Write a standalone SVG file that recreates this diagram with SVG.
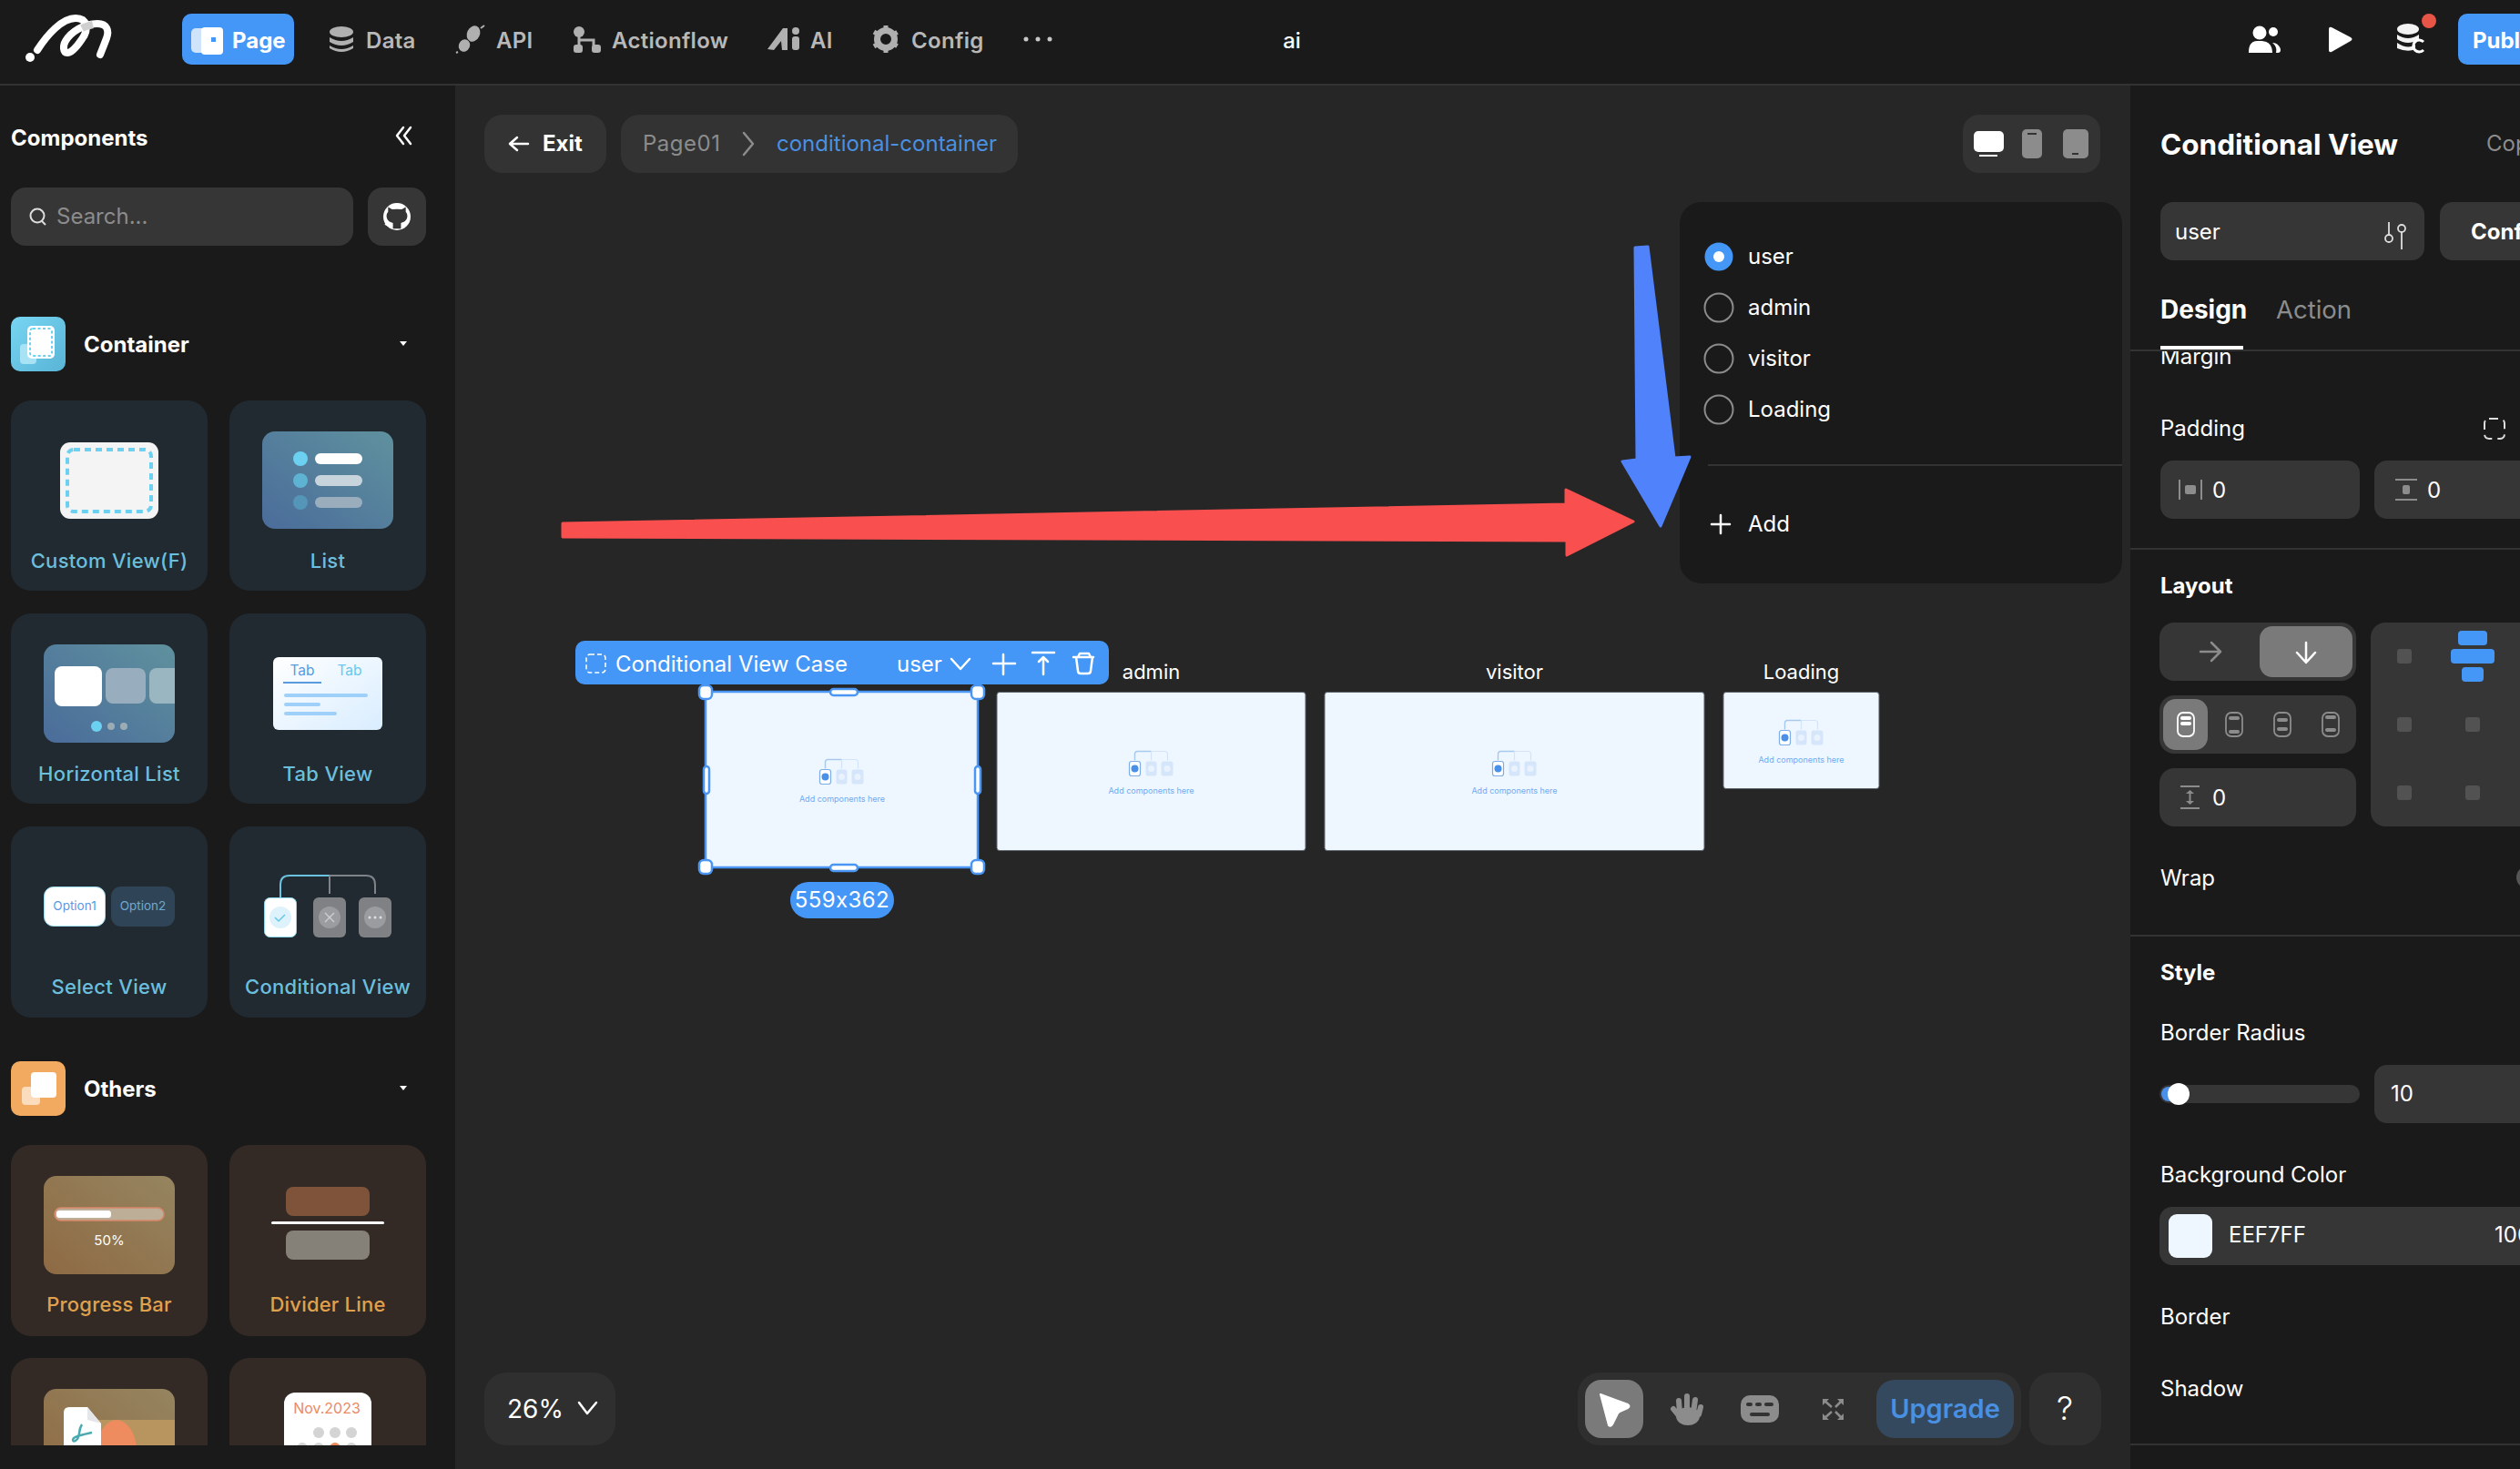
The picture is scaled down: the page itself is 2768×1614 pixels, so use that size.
<svg xmlns="http://www.w3.org/2000/svg" width="2768" height="1614" viewBox="0 0 2768 1614">
<style>
text{font-family:Inter,"Liberation Sans",sans-serif;font-size:24px;fill:#fff;white-space:pre}
.b{font-weight:700}.m{font-weight:500}
.g{fill:#8c8c8c}.nav{fill:#b8b8b8;font-weight:600;letter-spacing:.3px}
.c{text-anchor:middle}
.lb{fill:#6bbfdc;font-size:22px;font-weight:500;text-anchor:middle;letter-spacing:.3px}
.lo{fill:#e0a14f;font-size:22px;font-weight:500;text-anchor:middle;letter-spacing:.2px}
.tt{font-size:22px;text-anchor:middle}
.f{fill:#363636}.ln{stroke:#333;stroke-width:2;fill:none}
.cb{fill:#222a31}.co{fill:#332a25}
.wl{fill:none;stroke:#fff;stroke-width:2.5;stroke-linecap:round;stroke-linejoin:round}
.gl{fill:none;stroke:#8c8c8c;stroke-width:2.5;stroke-linecap:round;stroke-linejoin:round}
.case{fill:#eef7ff;stroke:#5d646c;stroke-width:1}
.h{fill:#fff;stroke:#4a96f2;stroke-width:2.5}
.add{font-size:9px;fill:#6eaaf2;text-anchor:middle}
</style>
<defs>
<linearGradient id="gb" x1="0" y1="1" x2="1" y2="0"><stop offset="0" stop-color="#4a6c9a"/><stop offset="1" stop-color="#5f919e"/></linearGradient>
<linearGradient id="gt" x1="0" y1="0" x2="1" y2="1"><stop offset="0" stop-color="#ffffff"/><stop offset="1" stop-color="#d9edff"/></linearGradient>
<linearGradient id="go" x1="0" y1="1" x2="1" y2="0"><stop offset="0" stop-color="#8e6a43"/><stop offset="1" stop-color="#958560"/></linearGradient>
<linearGradient id="gc" x1="0" y1="0" x2="1" y2="1"><stop offset="0" stop-color="#77d6f2"/><stop offset="1" stop-color="#59b4d6"/></linearGradient>
<clipPath id="sideclip"><rect x="0" y="94" width="500" height="1494"/></clipPath>
<clipPath id="hclip"><rect x="48" y="708" width="144" height="108" rx="14"/></clipPath>
<clipPath id="marginclip"><rect x="2340" y="386" width="428" height="40"/></clipPath>
<clipPath id="rightclip"><rect x="2340" y="0" width="428" height="1614"/></clipPath>
<g id="mini">
<path d="M-18 -1V-8Q-18 -11 -15 -11H0" fill="none" stroke="#a9c9ec" stroke-width="1.400"/>
<path d="M0 -11H15Q18 -11 18 -8V-1M0 -11V-1" fill="none" stroke="#d3e4f8" stroke-width="1.200"/>
<rect x="-24" y="0" width="12" height="16" rx="2.500" fill="#fff" stroke="#7eaee8" stroke-width="1.200"/>
<circle cx="-18" cy="8" r="4" fill="#4a8fe8"/>
<rect x="-6" y="0" width="12" height="16" rx="2.500" fill="#d5e6fb"/><circle cx="0" cy="8" r="3.500" fill="#e9f2fd"/>
<rect x="11" y="0" width="13" height="16" rx="2.500" fill="#d5e6fb"/><circle cx="17.500" cy="8" r="3.500" fill="#e9f2fd"/>
</g>
</defs>

<rect width="2768" height="1614" fill="#262626"/>

<g id="topbar">
<rect width="2768" height="92" fill="#1a1a1a"/>
<rect y="92" width="2768" height="2" fill="#333"/>
<g id="logo" fill="none" stroke="#fff" stroke-linecap="round">
<circle cx="33" cy="63" r="5" fill="#fff" stroke="none"/>
<path d="M41 55C52 38 68 20 83 20C96 20 98 32 90 43C84 52 78 58 74 58C69 58 69 50 72 45C78 35 92 26 107 26C118 26 120 34 117 42C114 50 112 55 110 60" stroke-width="8"/>
<path d="M90 31C94 29 98 28 102 27" stroke-width="8" stroke="#cfcfcf" stroke-linecap="butt"/>
</g>
<g id="nav-page"><rect x="200" y="15" width="123" height="56" rx="10" fill="#4497f7"/>
<rect x="210" y="31" width="22" height="27" rx="5" fill="#cfe3fb"/><rect x="221" y="30" width="24" height="30" rx="4" fill="#fff"/><rect x="232" y="41" width="5" height="5" fill="#4497f7"/>
<text x="255" y="53" class="b">Page</text></g>
<g id="nav-data" fill="#b0b0b0"><ellipse cx="375" cy="35" rx="13" ry="6"/><path d="M362 41q13 8 26 0v5q-13 8-26 0zM362 50q13 8 26 0v3q-13 8-26 0z"/><text x="402" y="53" class="nav">Data</text></g>
<g id="nav-api" fill="#b0b0b0"><ellipse cx="520" cy="37" rx="7" ry="9" transform="rotate(25 520 37)"/><ellipse cx="510" cy="50" rx="6" ry="7" transform="rotate(25 510 50)"/><path d="M503 57l-2 1M528 31l4-3" stroke="#b0b0b0" stroke-width="2"/><text x="545" y="53" class="nav">API</text></g>
<g id="nav-actionflow" fill="#b0b0b0"><circle cx="636" cy="35" r="6"/><rect x="630" y="49" width="10" height="9" rx="3"/><rect x="650" y="49" width="10" height="9" rx="3"/><path d="M636 40v10M636 44h16v6" fill="none" stroke="#b0b0b0" stroke-width="3"/><text x="672" y="53" class="nav">Actionflow</text></g>
<g id="nav-ai" fill="#b0b0b0"><path d="M843 54L860 31h5v24h-6l-1-10-8 10z"/><circle cx="874" cy="34" r="4"/><rect x="870" y="40" width="8" height="15" rx="3"/><text x="890" y="53" class="nav">AI</text></g>
<g id="nav-config"><circle cx="973" cy="43" r="9.500" fill="none" stroke="#b0b0b0" stroke-width="7"/><path d="M973 28v30M960 35l26 16M960 51l26-16" stroke="#b0b0b0" stroke-width="5" stroke-dasharray="5 20"/><text x="1001" y="53" class="nav">Config</text></g>
<g id="nav-more" fill="#c8c8c8"><circle cx="1127" cy="43" r="2.500"/><circle cx="1140" cy="43" r="2.500"/><circle cx="1153" cy="43" r="2.500"/></g>
<text x="1419" y="53" class="m c" id="title">ai</text>
<g id="users" fill="#fff"><circle cx="2482" cy="36" r="7.500"/><circle cx="2497" cy="35" r="5"/><path d="M2470 58c0-14 8-13 12-13s14 0 14 13zM2496 47c6 0 9 5 9 8q0 3-3 3h-2c1-4 0-8-4-11z"/></g>
<path id="play" d="M2561 30l21 11q3 2 0 4l-21 12q-3 1-3-2V32q0-3 3-2z" fill="#fff"/>
<g id="credits"><ellipse cx="2645" cy="32" rx="12" ry="6" fill="#f4f4f4"/><path d="M2633 38q12 8 24 0v5q-12 8-24 0zM2633 47q12 8 20 2v5q-8 4-20-1z" fill="#f4f4f4"/><path d="M2662 46a6.500 6.500 0 1 0 0 9" fill="none" stroke="#fff" stroke-width="3"/><circle cx="2668" cy="23" r="8" fill="#e65546"/></g>
<g id="publish"><rect x="2700" y="15" width="90" height="56" rx="10" fill="#4497f7"/><text x="2716" y="53" class="b">Publ</text></g>
</g>

<g id="sidebar">
<rect y="94" width="500" height="1520" fill="#1a1a1a"/>
<text x="12" y="160" class="b">Components</text>
<path d="M443 140l-7 9 7 9M451 140l-7 9 7 9" class="wl" stroke-width="2"/>
<g id="search"><rect x="12" y="206" width="376" height="64" rx="16" class="f"/><circle cx="41" cy="237" r="7.500" fill="none" stroke="#ddd" stroke-width="2"/><path d="M46 243l4 4" stroke="#ddd" stroke-width="2"/><text x="62" y="246" class="g">Search...</text></g>
<g id="github"><rect x="404" y="206" width="64" height="64" rx="16" class="f"/><circle cx="436" cy="238" r="15" fill="#fff"/><path d="M431 253v-7c-4-1-8-3-8-9q0-3 2-5v-6l5 3q6-1 12 0l5-3v6q2 2 2 5c0 6-4 8-8 9v7z" fill="#363636" transform="translate(436 238) scale(.88) translate(-436 -238)"/><path d="M423 246q4 3 8 1" stroke="#fff" stroke-width="2" fill="none"/></g>

<g id="section-container"><rect x="12" y="348" width="60" height="60" rx="10" fill="url(#gc)"/><rect x="22" y="378" width="18" height="22" rx="4" fill="#a7e2f5"/><rect x="30" y="358" width="30" height="36" rx="5" fill="#fff"/><rect x="33" y="361" width="24" height="30" rx="3" fill="none" stroke="#6cd0f0" stroke-width="2" stroke-dasharray="3 2.500"/><text x="92" y="387" class="b">Container</text><path d="M439 375h8l-4 5z" fill="#fff"/></g>

<g id="card-custom"><rect x="12" y="440" width="216" height="209" rx="22" class="cb"/><rect x="66" y="486" width="108" height="84" rx="11" fill="#f4f4f4"/><rect x="74" y="494" width="92" height="68" rx="7" fill="none" stroke="#6cd0f0" stroke-width="4" stroke-dasharray="7 5"/><text x="120" y="624" class="lb">Custom View(F)</text></g>
<g id="card-list"><rect x="252" y="440" width="216" height="209" rx="22" class="cb"/><rect x="288" y="474" width="144" height="107" rx="14" fill="url(#gb)"/><circle cx="330" cy="504" r="8" fill="#6cd0f0"/><circle cx="330" cy="528" r="8" fill="#5eb2d2"/><circle cx="330" cy="552" r="8" fill="#5596b8"/><rect x="346" y="498" width="52" height="12" rx="6" fill="#fff"/><rect x="346" y="522" width="52" height="12" rx="6" fill="#c8d4dc"/><rect x="346" y="546" width="52" height="12" rx="6" fill="#99adbd"/><text x="360" y="624" class="lb">List</text></g>
<g id="card-hlist"><rect x="12" y="674" width="216" height="209" rx="22" class="cb"/><rect x="48" y="708" width="144" height="108" rx="14" fill="url(#gb)"/><g clip-path="url(#hclip)"><rect x="60" y="732" width="52" height="44" rx="8" fill="#fff"/><rect x="116" y="734" width="44" height="39" rx="8" fill="#98aebe"/><rect x="164" y="734" width="44" height="39" rx="8" fill="#9ab6c0"/></g><circle cx="106" cy="798" r="6" fill="#6cd0f0"/><circle cx="122" cy="798" r="4" fill="#9cacb4"/><circle cx="136" cy="798" r="4" fill="#9cacb4"/><text x="120" y="858" class="lb">Horizontal List</text></g>
<g id="card-tab"><rect x="252" y="674" width="216" height="209" rx="22" class="cb"/><rect x="300" y="722" width="120" height="80" rx="6" fill="url(#gt)"/><text x="332" y="742" class="c" style="font-size:15.500px;fill:#5a9adf">Tab</text><text x="384" y="742" class="c" style="font-size:15.500px;fill:#6cc6ee">Tab</text><rect x="311" y="749" width="42" height="2" fill="#5a9adf"/><rect x="312" y="762" width="92" height="4" rx="2" fill="#9fd0fa"/><rect x="312" y="772" width="40" height="4" rx="2" fill="#9fd0fa"/><rect x="312" y="782" width="58" height="4" rx="2" fill="#9fd0fa"/><text x="360" y="858" class="lb">Tab View</text></g>
<g id="card-select"><rect x="12" y="908" width="216" height="210" rx="22" class="cb"/><rect x="48.500" y="974.500" width="67" height="43" rx="10" fill="#fff" stroke="#9adcf0" stroke-width="1"/><text x="82" y="1000" class="c" style="font-size:13.500px;fill:#5a9adf">Option1</text><rect x="122" y="974" width="70" height="44" rx="11" fill="#2f4557"/><text x="157" y="1000" class="c" style="font-size:13.500px;fill:#6ea9d0">Option2</text><text x="120" y="1092" class="lb">Select View</text></g>
<g id="card-cond"><rect x="252" y="908" width="216" height="210" rx="22" class="cb"/><path d="M308 986v-14q0-10 10-10h44" fill="none" stroke="#6cc3e0" stroke-width="2"/><path d="M362 962h40q10 0 10 10v10M362 962v20" fill="none" stroke="#808488" stroke-width="2"/><rect x="290.500" y="986.500" width="35" height="43" rx="6" fill="#fff" stroke="#8fd8ee" stroke-width="1"/><ellipse cx="308" cy="1008" rx="12" ry="12" fill="#ddf2fb"/><path d="M302 1008l4 4 7-7" fill="none" stroke="#66c7e8" stroke-width="1.500"/><rect x="344" y="986" width="36" height="44" rx="6" fill="#808184"/><ellipse cx="362" cy="1008" rx="12" ry="12" fill="#9b9ca0"/><path d="M357 1003l10 10M367 1003l-10 10" stroke="#d0d0d0" stroke-width="1.300"/><rect x="394" y="986" width="36" height="44" rx="6" fill="#808184"/><ellipse cx="412" cy="1008" rx="12" ry="12" fill="#9b9ca0"/><circle cx="406" cy="1008" r="1.500" fill="#ddd"/><circle cx="412" cy="1008" r="1.500" fill="#ddd"/><circle cx="418" cy="1008" r="1.500" fill="#ddd"/><text x="360" y="1092" class="lb">Conditional View</text></g>

<g id="section-others"><rect x="12" y="1166" width="60" height="60" rx="10" fill="#f2aa60"/><rect x="24" y="1194" width="20" height="20" rx="4" fill="#fbdcbd"/><rect x="34" y="1178" width="28" height="28" rx="4" fill="#fff"/><text x="92" y="1205" class="b">Others</text><path d="M439 1193h8l-4 5z" fill="#fff"/></g>

<g id="card-progress"><rect x="12" y="1258" width="216" height="210" rx="22" class="co"/><rect x="48" y="1292" width="144" height="108" rx="14" fill="url(#go)"/><rect x="60" y="1327" width="120" height="14" rx="7" fill="#bdae98" stroke="#d9876a" stroke-width="1.500"/><rect x="62" y="1330" width="60" height="8" rx="3" fill="#fff"/><text x="120" y="1368" class="c" style="font-size:15px">50%</text><text x="120" y="1441" class="lo">Progress Bar</text></g>
<g id="card-divider"><rect x="252" y="1258" width="216" height="210" rx="22" class="co"/><rect x="314" y="1304" width="92" height="32" rx="8" fill="#7e533a"/><rect x="298" y="1342" width="124" height="3" rx="1.500" fill="#fff"/><rect x="314" y="1352" width="92" height="32" rx="8" fill="#858078"/><text x="360" y="1441" class="lo">Divider Line</text></g>
<g clip-path="url(#sideclip)">
<g id="card-pdf"><rect x="12" y="1492" width="216" height="210" rx="22" class="co"/><rect x="48" y="1526" width="144" height="108" rx="14" fill="url(#go)"/><rect x="100" y="1560" width="92" height="60" fill="#b8945f"/><ellipse cx="128" cy="1595" rx="22" ry="35" fill="#ef8c5f"/><path d="M70 1552q0-6 6-6h20l15 18v40H70z" fill="#fff"/><path d="M96 1546l15 18-15-4z" fill="#e4e6ea"/><path d="M90 1565c-4 6-2 10-4 14-1 4-6 6-6 3 0-4 12-6 21-8" fill="none" stroke="#4baab0" stroke-width="2.500"/></g>
<g id="card-calendar"><rect x="252" y="1492" width="216" height="210" rx="22" class="co"/><rect x="312" y="1530" width="96" height="90" rx="12" fill="#fff"/><text x="359" y="1553" class="c" style="font-size:16px;fill:#ec8a5c">Nov.2023</text><circle cx="350" cy="1574" r="6" fill="#d4d4d4"/><circle cx="368" cy="1574" r="6" fill="#d4d4d4"/><circle cx="386" cy="1574" r="6" fill="#d4d4d4"/><circle cx="332" cy="1591" r="6" fill="#d4d4d4"/><circle cx="350" cy="1591" r="6" fill="#d4d4d4"/><circle cx="368" cy="1591" r="6" fill="#ec8a5c"/><circle cx="386" cy="1591" r="6" fill="#d4d4d4"/></g>
</g>
</g>

<g id="canvas-top">
<g id="exit"><rect x="532" y="126" width="134" height="64" rx="20" fill="#333"/><path d="M580 158h-19M568 151l-8 7 8 7" class="wl" stroke-width="2"/><text x="596" y="166" class="b">Exit</text></g>
<g id="breadcrumb"><rect x="682" y="126" width="436" height="64" rx="20" fill="#333"/><text x="706" y="166" class="g" style="letter-spacing:.5px">Page01</text><path d="M817 146l10 12-10 12" class="gl" stroke-width="1.600"/><text x="853" y="166" style="fill:#4a90e2">conditional-container</text></g>
<g id="devices"><rect x="2156" y="126" width="151" height="64" rx="18" fill="#333"/><rect x="2168" y="144" width="33" height="23" rx="5" fill="#fff"/><rect x="2174" y="170" width="20" height="2" fill="#fff"/><rect x="2221" y="142" width="22" height="32" rx="5" fill="#8c8c8c"/><rect x="2227" y="146" width="10" height="2" fill="#333"/><rect x="2266" y="142" width="28" height="32" rx="5" fill="#8c8c8c"/><rect x="2276" y="168" width="7" height="2" fill="#333"/></g>
</g>

<g id="case-toolbar">
<rect x="632" y="704" width="586" height="48" rx="10" fill="#4497f7"/>
<rect x="644" y="719" width="21" height="20" rx="4" fill="none" stroke="#fff" stroke-width="1.500" stroke-dasharray="5 3"/>
<text x="676" y="738">Conditional View Case</text>
<text x="985" y="738">user</text>
<path d="M1045 724l10 11 10-11" class="wl" stroke-width="1.400"/>
<path d="M1102 719v22M1091 729h24" class="wl" stroke-width="1.600"/>
<path d="M1134 717h24M1146 741v-19M1141 727l5-5 5 5" class="wl" stroke-width="1.600"/>
<path d="M1179 722h22M1184 722l2-4h10l2 4M1182 722l2 15q0 3 3 3h8q3 0 3-3l2-15" class="wl" stroke-width="1.600"/>
</g>

<g id="case-user">
<rect x="775" y="760" width="299" height="193" fill="#eef7ff" stroke="#4a96f2" stroke-width="2.500"/>
<use href="#mini" x="924.500" y="845.500"/><text x="925" y="881" class="add">Add components here</text>
<rect x="768" y="753" width="14" height="15" rx="5" class="h"/><rect x="1067" y="753" width="14" height="15" rx="5" class="h"/><rect x="768" y="945" width="14" height="15" rx="5" class="h"/><rect x="1067" y="945" width="14" height="15" rx="5" class="h"/>
<rect x="912" y="757" width="30" height="7" rx="3.500" class="h"/><rect x="912" y="950" width="30" height="7" rx="3.500" class="h"/>
<rect x="773" y="842" width="6" height="30" rx="3" class="h"/><rect x="1071" y="842" width="6" height="30" rx="3" class="h"/>
<g id="size-pill"><rect x="868" y="969" width="114" height="40" rx="20" fill="#4497f7"/><text x="925" y="997" class="c" style="letter-spacing:.4px">559x362</text></g>
</g>
<g id="case-admin"><text x="1264.500" y="746" class="tt">admin</text><rect x="1095" y="760.500" width="339" height="174" rx="3" class="case"/><use href="#mini" x="1264.500" y="836.500"/><text x="1264.500" y="872" class="add">Add components here</text></g>
<g id="case-visitor"><text x="1663.500" y="746" class="tt">visitor</text><rect x="1455" y="760.500" width="417" height="174" rx="3" class="case"/><use href="#mini" x="1663.500" y="836.500"/><text x="1663.500" y="872" class="add">Add components here</text></g>
<g id="case-loading"><text x="1978.500" y="746" class="tt">Loading</text><rect x="1893" y="760.500" width="171" height="106" rx="3" class="case"/><use href="#mini" x="1978.500" y="802.500"/><text x="1978.500" y="838" class="add">Add components here</text></g>

<g id="case-popup">
<rect x="1845" y="222" width="486" height="419" rx="24" fill="#1a1a1a"/>
<circle cx="1888" cy="282" r="15.500" fill="#4497f7"/><circle cx="1888" cy="282" r="6" fill="#fff"/><text x="1920" y="290">user</text>
<circle cx="1888" cy="338" r="15.500" fill="none" stroke="#8c8c8c" stroke-width="2"/><text x="1920" y="346">admin</text>
<circle cx="1888" cy="394" r="15.500" fill="none" stroke="#8c8c8c" stroke-width="2"/><text x="1920" y="402">visitor</text>
<circle cx="1888" cy="450" r="15.500" fill="none" stroke="#8c8c8c" stroke-width="2"/><text x="1920" y="458">Loading</text>
<path d="M1876 511h455" class="ln"/>
<path d="M1890 566v20M1880 576h20" class="wl" stroke-width="1.600"/><text x="1920" y="584">Add</text>
</g>

<g id="connectors" stroke-linejoin="round" stroke-width="3">
<path d="M618 575L1720 554V538L1794 573L1721 610V594L618 590z" fill="#f94f4f" stroke="#f94f4f"/>
<path d="M1796 272L1810 271L1839 503L1856 502L1824 578L1782 507L1798 505z" fill="#5082fb" stroke="#5082fb"/>
</g>

<g id="canvas-bottom">
<g id="zoom"><rect x="532" y="1508" width="144" height="80" rx="24" fill="#2f2f2f"/><text x="557" y="1558" style="font-size:28px">26%</text><path d="M636 1541l9 12 10-12" class="wl" stroke-width="1.800"/></g>
<g id="tools"><rect x="1733" y="1508" width="487" height="80" rx="24" fill="#2f2f2f"/>
<rect x="1741" y="1516" width="64" height="64" rx="18" fill="#7a7a7a"/><path d="M1758 1532l30 11q3 2 0 4l-9 4q-2 1-3 4l-5 10q-2 3-4 1z" fill="#fff" stroke="#fff" stroke-width="2" stroke-linejoin="round"/>
<g id="hand" fill="none" stroke="#8c8c8c" stroke-width="6" stroke-linecap="round"><path d="M1838 1548l8 10M1845 1552l-1-13M1853 1552v-18M1860 1552l2-14M1866 1554l2-8"/><ellipse cx="1854" cy="1556" rx="10" ry="7" fill="#8c8c8c"/></g>
<rect x="1912" y="1533" width="42" height="30" rx="10" fill="#8c8c8c"/><rect x="1918" y="1541" width="7" height="4" rx="2" fill="#333"/><rect x="1928" y="1541" width="7" height="4" rx="2" fill="#333"/><rect x="1938" y="1541" width="10" height="4" rx="2" fill="#333"/><rect x="1922" y="1552" width="22" height="4" rx="2" fill="#333"/>
<path d="M2003 1538l9 8M2024 1538l-8 8M2003 1559l9-8M2024 1559l-8-8" fill="none" stroke="#8c8c8c" stroke-width="2.500"/><path d="M2002 1544v-7h7zM2025 1544v-7h-7zM2002 1553v7h7zM2025 1553v7h-7z" fill="#8c8c8c"/>
<rect x="2061" y="1516" width="151" height="64" rx="20" fill="#34495e"/><text x="2136.500" y="1558" class="b c" style="font-size:29px;font-weight:600;fill:#4a90e2">Upgrade</text></g>
<g id="help"><rect x="2229" y="1508" width="79" height="80" rx="24" fill="#2f2f2f"/><text x="2268" y="1560" class="c" style="font-size:36px;font-weight:300">?</text></g>
</g>

<g id="rightpanel" clip-path="url(#rightclip)">
<rect x="2340" y="94" width="428" height="1520" fill="#1a1a1a"/>
<text x="2373" y="170" style="font-size:31.500px;font-weight:700">Conditional View</text>
<text x="2731" y="166" class="g">Cop</text>
<g id="case-field"><rect x="2373" y="222" width="290" height="64" rx="14" class="f"/><text x="2389" y="263">user</text><path d="M2624 244v22M2638 252v22" stroke="#ddd" stroke-width="1.800"/><circle cx="2624" cy="262" r="4" fill="#363636" stroke="#ddd" stroke-width="1.800"/><circle cx="2638" cy="251" r="4" fill="#363636" stroke="#ddd" stroke-width="1.800"/></g>
<g id="config-btn"><rect x="2680" y="222" width="120" height="64" rx="14" class="f"/><text x="2714" y="263" class="b">Conf</text></g>
<text x="2373" y="350" style="font-size:28px;font-weight:700">Design</text>
<text x="2500" y="350" class="g" style="font-size:27.500px">Action</text>
<g clip-path="url(#marginclip)"><text x="2373" y="400">Margin</text></g>
<rect x="2340" y="384" width="428" height="2" fill="#333"/>
<rect x="2373" y="380" width="91" height="4" fill="#fff"/>
<text x="2373" y="479">Padding</text>
<rect x="2729" y="460" width="22" height="22" rx="5" fill="none" stroke="#ddd" stroke-width="2" stroke-dasharray="10 6" stroke-dashoffset="16"/>
<g id="padding-h"><rect x="2373" y="506" width="219" height="64" rx="14" class="f"/><path d="M2394 527v22M2418 527v22" stroke="#8c8c8c" stroke-width="2"/><rect x="2400" y="533" width="12" height="10" rx="2" fill="#8c8c8c"/><text x="2430" y="547">0</text></g>
<g id="padding-v"><rect x="2608" y="506" width="200" height="64" rx="14" class="f"/><path d="M2631 527h24M2631 549h24" stroke="#8c8c8c" stroke-width="2"/><rect x="2639" y="533" width="8" height="10" rx="2" fill="#8c8c8c"/><text x="2666" y="547">0</text></g>
<rect x="2340" y="602" width="428" height="2" fill="#333"/>
<text x="2373" y="652" class="b">Layout</text>
<g id="direction"><rect x="2372" y="684" width="216" height="64" rx="16" class="f"/><rect x="2482" y="688" width="102" height="56" rx="14" fill="#7a7a7a"/><path d="M2417 716h22M2429 706l10 10-10 10" class="gl" stroke-width="1.600"/><path d="M2533 706v22M2523 717l10 11 10-11" class="wl" stroke-width="1.600"/></g>
<g id="justify"><rect x="2372" y="764" width="216" height="64" rx="16" class="f"/><rect x="2376" y="768" width="49" height="56" rx="14" fill="#7a7a7a"/>
<rect x="2392" y="783" width="18" height="26" rx="6" fill="none" stroke="#fff" stroke-width="1.800"/><rect x="2395" y="787" width="12" height="4" rx="2" fill="#fff"/><rect x="2395" y="793" width="12" height="4" rx="2" fill="#fff"/>
<rect x="2445" y="783" width="18" height="26" rx="6" fill="none" stroke="#8c8c8c" stroke-width="1.800"/><rect x="2448" y="787" width="12" height="4" rx="2" fill="#8c8c8c"/><rect x="2448" y="802" width="12" height="4" rx="2" fill="#8c8c8c"/>
<rect x="2498" y="783" width="18" height="26" rx="6" fill="none" stroke="#8c8c8c" stroke-width="1.800"/><rect x="2501" y="789" width="12" height="4" rx="2" fill="#8c8c8c"/><rect x="2501" y="799" width="12" height="4" rx="2" fill="#8c8c8c"/>
<rect x="2551" y="783" width="18" height="26" rx="6" fill="none" stroke="#8c8c8c" stroke-width="1.800"/><rect x="2554" y="786" width="12" height="4" rx="2" fill="#8c8c8c"/><rect x="2554" y="800" width="12" height="4" rx="2" fill="#8c8c8c"/></g>
<g id="gap"><rect x="2372" y="844" width="216" height="64" rx="16" class="f"/><path d="M2395 864h21M2395 888h21M2405.500 869v14" stroke="#8c8c8c" stroke-width="2"/><path d="M2401 872l4.500-4 4.500 4zM2401 880l4.500 4 4.500-4z" fill="#8c8c8c"/><text x="2430" y="885">0</text></g>
<g id="align"><rect x="2604" y="684" width="240" height="224" rx="16" class="f"/>
<rect x="2633" y="713" width="16" height="16" rx="3" fill="#525252"/><rect x="2708" y="788" width="16" height="16" rx="3" fill="#525252"/><rect x="2633" y="788" width="16" height="16" rx="3" fill="#525252"/><rect x="2633" y="863" width="16" height="16" rx="3" fill="#525252"/><rect x="2708" y="863" width="16" height="16" rx="3" fill="#525252"/>
<rect x="2700" y="693" width="32" height="16" rx="4" fill="#4497f7"/><rect x="2692" y="713" width="48" height="16" rx="4" fill="#4497f7"/><rect x="2704" y="733" width="24" height="16" rx="4" fill="#4497f7"/></g>
<text x="2373" y="973">Wrap</text>
<circle cx="2776" cy="964" r="12" fill="#555"/>
<rect x="2340" y="1027" width="428" height="2" fill="#333"/>
<text x="2373" y="1077" class="b">Style</text>
<text x="2373" y="1143">Border Radius</text>
<g id="slider"><rect x="2372" y="1192" width="220" height="20" rx="10" class="f"/><rect x="2374" y="1194" width="26" height="16" rx="8" fill="#4a8fe8"/><circle cx="2393" cy="1202" r="12" fill="#fff"/></g>
<g id="radius-field"><rect x="2608" y="1170" width="200" height="64" rx="14" class="f"/><text x="2626" y="1210">10</text></g>
<text x="2373" y="1299">Background Color</text>
<g id="color-field"><rect x="2372" y="1326" width="440" height="64" rx="14" class="f"/><rect x="2382" y="1334" width="48" height="48" rx="9" fill="#eef7ff"/><text x="2448" y="1365">EEF7FF</text><text x="2740" y="1365">100</text></g>
<text x="2373" y="1455">Border</text>
<text x="2373" y="1534">Shadow</text>
<rect x="2340" y="1586" width="428" height="2" fill="#333"/>
</g>
</svg>
